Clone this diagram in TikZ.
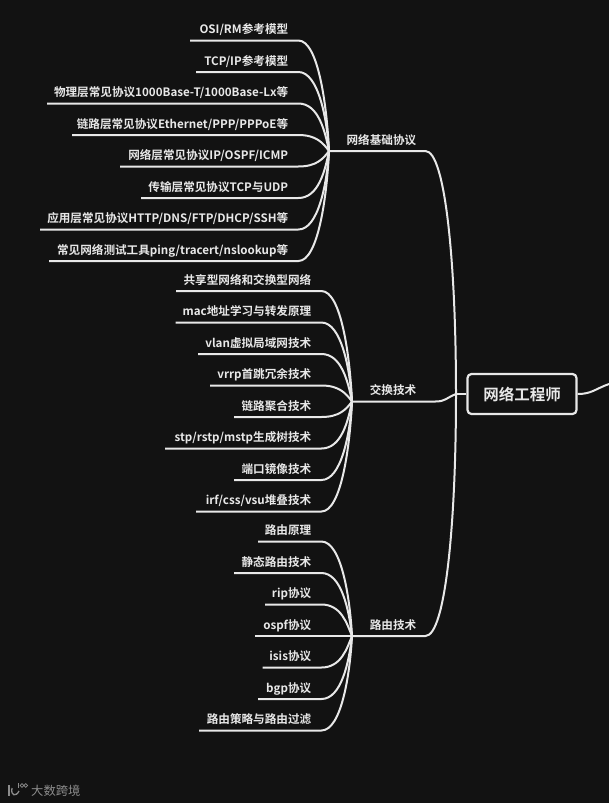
\documentclass[tikz,border=0pt]{standalone}
\usepackage{fontspec}
\setmainfont{Noto Sans CJK SC}[BoldFont={* Bold}]
\definecolor{mapbg}{HTML}{121212}
\definecolor{mapline}{HTML}{E8E8E8}
\definecolor{marktext}{HTML}{8C8C8C}
\tikzset{
      leaf/.style={
        text=mapline,
        font=\bfseries\fontsize{11.6}{12}\selectfont,
        anchor=south west,
        align=right,
        inner sep=0pt,
        text height=9.5pt,
        text depth=6.8pt
      },
      branch/.style={
        draw=mapline,
        line width=2pt
      },
      logoline/.style={
        draw=marktext,
        line width=1.3pt
      },
      rootbox/.style={
        rounded corners=4pt,
        draw=mapline,
        line width=2.2pt,
        fill=mapbg,
        text=mapline,
        font=\bfseries\fontsize{15.5}{16}\selectfont,
        minimum width=109pt,
        minimum height=40pt,
        inner sep=0pt
      }
    }

\begin{document}
\begin{tikzpicture}[x=1pt,y=-1pt]
    \useasboundingbox (0,0) rectangle (609,803);
    \fill[mapbg] (0,0) rectangle (609,803);
    % centre and trunk
    \node[rootbox] (root) at (522,394) {网络工程师};
    \coordinate (trunk) at (456,394);
    \coordinate (nextarm) at (609,384);
    \draw[branch] (trunk) -- (root.west);
    \draw[branch] (root.east) .. controls +(14,0) and +(-14,5) .. (nextarm);
    % three groups
    \node[leaf,text width=87pt] (g1) at (329,151) {网络基础协议};
    \node[leaf,text width=64pt] (g2) at (352,401.5) {交换技术};
    \node[leaf,text width=64pt] (g3) at (352,636) {路由技术};
    \draw[branch] (g1.south west) -- (g1.south east) -- ++(9,0) .. controls +(20,0) and +(0,-130) .. (trunk);
    \draw[branch] (g2.south west) -- (g2.south east) -- ++(19,0) .. controls +(10,0) and +(-10,4) .. (trunk);
    \draw[branch] (g3.south west) -- (g3.south east) -- ++(9,0) .. controls +(20,0) and +(0,130) .. (trunk);
    % first group
    \node[leaf,text width=98pt] (a1) at (190,40.5) {OSI/RM参考模型};
    \node[leaf,text width=92pt] (a2) at (196,72) {TCP/IP参考模型};
    \node[leaf,text width=241pt] (a3) at (47,103.5) {物理层常见协议1000Base-T/1000Base-Lx等};
    \node[leaf,text width=216pt] (a4) at (72,135) {链路层常见协议Ethernet/PPP/PPPoE等};
    \node[leaf,text width=168pt] (a5) at (120,166.5) {网络层常见协议IP/OSPF/ICMP};
    \node[leaf,text width=147pt] (a6) at (141,198) {传输层常见协议TCP与UDP};
    \node[leaf,text width=248pt] (a7) at (40,229.5) {应用层常见协议HTTP/DNS/FTP/DHCP/SSH等};
    \node[leaf,text width=239pt] (a8) at (49,261) {常见网络测试工具ping/tracert/nslookup等};
    \draw[branch] (a1.south west) -- (a1.south east) -- ++(10,0) .. controls +(20,0) and +(-2,-44) .. (g1.south west);
    \draw[branch] (a2.south west) -- (a2.south east) -- ++(10,0) .. controls +(20,0) and +(-2,-32) .. (g1.south west);
    \draw[branch] (a3.south west) -- (a3.south east) -- ++(10,0) .. controls +(20,0) and +(-4,-20) .. (g1.south west);
    \draw[branch] (a4.south west) -- (a4.south east) -- ++(10,0) .. controls +(18,0) and +(-6,-8) .. (g1.south west);
    \draw[branch] (a5.south west) -- (a5.south east) -- ++(10,0) .. controls +(18,0) and +(-6,8) .. (g1.south west);
    \draw[branch] (a6.south west) -- (a6.south east) -- ++(10,0) .. controls +(20,0) and +(-4,20) .. (g1.south west);
    \draw[branch] (a7.south west) -- (a7.south east) -- ++(10,0) .. controls +(20,0) and +(-2,32) .. (g1.south west);
    \draw[branch] (a8.south west) -- (a8.south east) -- ++(10,0) .. controls +(20,0) and +(-2,44) .. (g1.south west);
    % second group
    \node[leaf,text width=135pt] (b1) at (176,291) {共享型网络和交换型网络};
    \node[leaf,text width=135.5pt] (b2) at (175.5,322.5) {mac地址学习与转发原理};
    \node[leaf,text width=113pt] (b3) at (198,354) {vlan虚拟局域网技术};
    \node[leaf,text width=101pt] (b4) at (210,385.5) {vrrp首跳冗余技术};
    \node[leaf,text width=77pt] (b5) at (234,417) {链路聚合技术};
    \node[leaf,text width=146pt] (b6) at (165,448.5) {stp/rstp/mstp生成树技术};
    \node[leaf,text width=77pt] (b7) at (234,480) {端口镜像技术};
    \node[leaf,text width=115pt] (b8) at (196,511.5) {irf/css/vsu堆叠技术};
    \draw[branch] (b1.south west) -- (b1.south east) -- ++(10,0) .. controls +(20,0) and +(-2,-44) .. (g2.south west);
    \draw[branch] (b2.south west) -- (b2.south east) -- ++(10,0) .. controls +(20,0) and +(-2,-32) .. (g2.south west);
    \draw[branch] (b3.south west) -- (b3.south east) -- ++(10,0) .. controls +(20,0) and +(-4,-20) .. (g2.south west);
    \draw[branch] (b4.south west) -- (b4.south east) -- ++(10,0) .. controls +(18,0) and +(-6,-8) .. (g2.south west);
    \draw[branch] (b5.south west) -- (b5.south east) -- ++(10,0) .. controls +(18,0) and +(-6,8) .. (g2.south west);
    \draw[branch] (b6.south west) -- (b6.south east) -- ++(10,0) .. controls +(20,0) and +(-4,20) .. (g2.south west);
    \draw[branch] (b7.south west) -- (b7.south east) -- ++(10,0) .. controls +(20,0) and +(-2,32) .. (g2.south west);
    \draw[branch] (b8.south west) -- (b8.south east) -- ++(10,0) .. controls +(20,0) and +(-2,44) .. (g2.south west);
    % third group
    \node[leaf,text width=53pt] (c1) at (258,541.5) {路由原理};
    \node[leaf,text width=77pt] (c2) at (234,573) {静态路由技术};
    \node[leaf,text width=46pt] (c3) at (265,604.5) {rip协议};
    \node[leaf,text width=56pt] (c4) at (255,636) {ospf协议};
    \node[leaf,text width=48.5pt] (c5) at (262.5,667.5) {isis协议};
    \node[leaf,text width=53pt] (c6) at (258,699) {bgp协议};
    \node[leaf,text width=112pt] (c7) at (199,730.5) {路由策略与路由过滤};
    \draw[branch] (c1.south west) -- (c1.south east) -- ++(10,0) .. controls +(20,0) and +(-2,-38) .. (g3.south west);
    \draw[branch] (c2.south west) -- (c2.south east) -- ++(10,0) .. controls +(20,0) and +(-3,-26) .. (g3.south west);
    \draw[branch] (c3.south west) -- (c3.south east) -- ++(10,0) .. controls +(20,0) and +(-5,-12) .. (g3.south west);
    \draw[branch] (c4.south west) -- (c4.south east) -- (g3.south west);
    \draw[branch] (c5.south west) -- (c5.south east) -- ++(10,0) .. controls +(20,0) and +(-5,12) .. (g3.south west);
    \draw[branch] (c6.south west) -- (c6.south east) -- ++(10,0) .. controls +(20,0) and +(-3,26) .. (g3.south west);
    \draw[branch] (c7.south west) -- (c7.south east) -- ++(10,0) .. controls +(20,0) and +(-2,38) .. (g3.south west);
    % watermark
    \node[text=marktext,font=\fontsize{12.3}{12}\selectfont,anchor=west,inner sep=0pt] (mark) at (31,790.5) {大数跨境};
    \draw[logoline] (9,785) -- (9,796);
    \draw[logoline] (12,788) .. controls (10.5,796) and (16,797) .. (19,791);
    \draw[logoline,line width=0.7pt] (18.5,783) -- (18.5,788);
    \draw[logoline,line width=0.7pt] (22,785.5) circle (1.9) (25.8,785.5) circle (1.9);
    \end{tikzpicture}
\end{document}
